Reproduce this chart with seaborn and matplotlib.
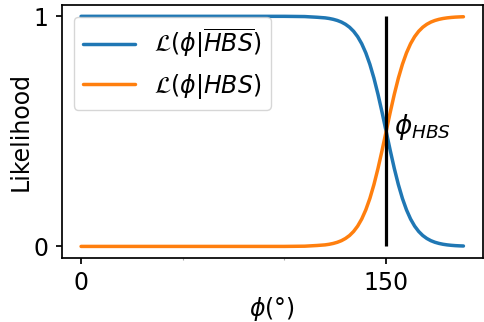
import numpy as np
import pandas as pd
import seaborn as sns
import matplotlib.pyplot as plt

# angle grid (degrees) and likelihood values
phi = [0, 60, 100, 110, 116,
       120, 122, 124, 126, 128, 130, 132, 134, 136, 138, 140, 142, 144, 146, 148,
       150, 152, 154, 156, 158, 160, 162, 164, 166, 168, 170, 172, 174, 176, 178,
       180, 182, 184, 186, 188]
lik_hbs = [0.0, 0.0, 0.0, 0.001, 0.004,
           0.0067, 0.0093, 0.0130, 0.0180, 0.0249, 0.0345, 0.0474, 0.0650, 0.0884,
           0.1192, 0.1589, 0.2086, 0.2689, 0.3392, 0.4174,
           0.5, 0.5826, 0.6608, 0.7311, 0.7914, 0.8411, 0.8808, 0.9116, 0.9350,
           0.9526, 0.9655, 0.9751, 0.9820, 0.9870, 0.9907,
           0.9933, 0.9952, 0.9966, 0.9975, 0.9982]
lik_not_hbs = [1.0, 1.0, 1.0, 0.999, 0.996,
               0.9933, 0.9907, 0.9870, 0.9820, 0.9751, 0.9655, 0.9526, 0.9350, 0.9116,
               0.8808, 0.8411, 0.7914, 0.7311, 0.6608, 0.5826,
               0.5, 0.4174, 0.3392, 0.2689, 0.2086, 0.1589, 0.1192, 0.0884, 0.0650,
               0.0474, 0.0345, 0.0249, 0.0180, 0.0130, 0.0093,
               0.0067, 0.0048, 0.0034, 0.0025, 0.0018]
phi_hbs = 150
xticks = [0, 150]
yticks = [0, 1]

label_not = r'$\mathcal{L}(\phi|\overline{HBS})$'
label_hbs = r'$\mathcal{L}(\phi|HBS)$'

df = pd.DataFrame({
    'phi': phi * 2,
    'lik': lik_not_hbs + lik_hbs,
    'curve': [label_not] * len(phi) + [label_hbs] * len(phi),
})

sns.set_theme(style='ticks')
plt.rcParams['font.family'] = ['DejaVu Sans']
plt.rcParams.update({'text.color': 'black', 'axes.labelcolor': 'black',
                     'xtick.color': 'black', 'ytick.color': 'black'})

fig = plt.figure(figsize=(4.84, 3.22), dpi=100)
ax = fig.add_axes([0.128, 0.199, 0.869, 0.786])

sns.lineplot(data=df, x='phi', y='lik', hue='curve',
             palette=['#1f77b4', '#ff7f0e'], linewidth=2.5, ax=ax)

# threshold line
ax.vlines(phi_hbs, 0, 1, color='black', linewidth=2.3)
ax.text(phi_hbs + 4, 0.52, r'$\phi_{HBS}$', fontsize=19, va='center', ha='left')

ax.set_xticks(xticks)
ax.set_xticks([50, 100], minor=True)
ax.set_yticks(yticks)
ax.tick_params(axis='both', which='major', labelsize=17, length=4.5, width=1.25, pad=5)
ax.tick_params(axis='x', which='minor', length=1.2, width=0.8, color='#aaaaaa')
for s in ax.spines.values():
    s.set_linewidth(1.25)
    s.set_color('black')

ax.set_xlabel(r'$\phi(°)$', fontsize=17, labelpad=0)
ax.set_ylabel('Likelihood', fontsize=17, labelpad=1)

leg = ax.legend(loc='upper left', fontsize=17, frameon=True, fancybox=True,
                framealpha=0.8, edgecolor='#cccccc', handlelength=2.2)
leg.set_title(None)

fig.savefig('out.png', dpi=100)
